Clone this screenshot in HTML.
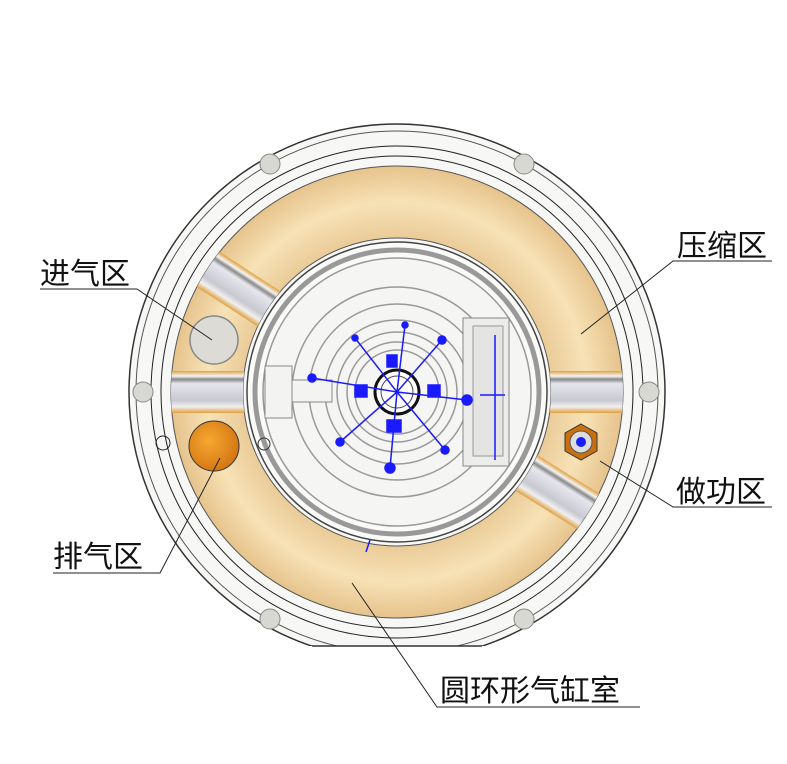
<!DOCTYPE html>
<html><head><meta charset="utf-8"><style>
html,body{margin:0;padding:0;background:#fff;}
svg{display:block}
text{font-family:"Liberation Sans","Noto Sans CJK SC",sans-serif;font-size:30px;fill:#111}
</style></head><body>
<svg width="787" height="764" viewBox="0 0 787 764" xmlns="http://www.w3.org/2000/svg">
<defs>
<radialGradient id="tor" cx="397" cy="392" r="226" gradientUnits="userSpaceOnUse">
<stop offset="0.68" stop-color="#eacb98"/>
<stop offset="0.84" stop-color="#f7e2b6"/>
<stop offset="1" stop-color="#e6c38c"/>
</radialGradient>
<linearGradient id="rib" x1="0" y1="0" x2="0" y2="1">
<stop offset="0" stop-color="#e0a040"/><stop offset="0.12" stop-color="#f4f4f4"/>
<stop offset="0.2" stop-color="#8a8a8a"/><stop offset="0.3" stop-color="#e6e6ee"/>
<stop offset="0.7" stop-color="#c8c8d0"/><stop offset="0.85" stop-color="#f0f0f0"/>
<stop offset="1" stop-color="#e0a040"/>
</linearGradient>
<radialGradient id="org" cx="0.4" cy="0.4" r="0.7"><stop offset="0" stop-color="#f6a830"/><stop offset="1" stop-color="#d07010"/></radialGradient>
<clipPath id="tc"><path d="M397,166a226,226 0 1,0 0.01,0Z M397,238a154,154 0 1,1 -0.01,0Z" clip-rule="evenodd" fill-rule="evenodd"/></clipPath>
<clipPath id="body"><path d="M0,0H787V646H0Z"/></clipPath>
</defs>
<g clip-path="url(#body)">
<circle cx="397" cy="392" r="268" fill="#f7f7f5" stroke="#333" stroke-width="1.5"/>
<circle cx="397" cy="392" r="261" fill="none" stroke="#555" stroke-width="1"/>
<circle cx="397" cy="392" r="246" fill="none" stroke="#222" stroke-width="1"/>
<circle cx="397" cy="392" r="236" fill="none" stroke="#222" stroke-width="1"/>
</g>
<line x1="312" y1="646" x2="482" y2="646" stroke="#333" stroke-width="1.5"/>
<g fill="#d8d8d2" stroke="#888" stroke-width="1">
<circle cx="270" cy="164" r="10"/><circle cx="524" cy="164" r="10"/>
<circle cx="143" cy="392" r="10"/><circle cx="649" cy="392" r="10"/>
<circle cx="270" cy="619" r="10"/><circle cx="524" cy="619" r="10"/>
</g>
<circle cx="163" cy="443" r="7" fill="none" stroke="#222"/>
<path d="M397,166a226,226 0 1,0 0.01,0Z M397,238a154,154 0 1,1 -0.01,0Z" fill="url(#tor)" fill-rule="evenodd" stroke="#555" stroke-width="1"/>
<g clip-path="url(#tc)">
<rect x="150" y="371" width="500" height="42" fill="url(#rib)"/>
<rect x="140" y="371" width="257" height="42" fill="url(#rib)" transform="rotate(33 397 392)"/>
<rect x="397" y="371" width="257" height="42" fill="url(#rib)" transform="rotate(32 397 392)"/>
</g>
<circle cx="397" cy="392" r="150" fill="#fafaf8" stroke="#444" stroke-width="1.5"/>
<circle cx="397" cy="392" r="142" fill="none" stroke="#999" stroke-width="5"/>
<circle cx="397" cy="392" r="134" fill="#f5f5f3" stroke="#999" stroke-width="1.5"/>
<g fill="none" stroke="#999" stroke-width="1.5">
<circle cx="397" cy="392" r="105"/><circle cx="397" cy="392" r="88"/>
<circle cx="397" cy="392" r="72"/><circle cx="397" cy="392" r="60"/>
<circle cx="397" cy="392" r="50"/><circle cx="397" cy="392" r="42"/>
</g>
<rect x="265" y="366" width="27" height="52" fill="#f3f3f1" stroke="#888"/>
<rect x="292" y="380" width="40" height="22" fill="#f3f3f1" stroke="#888"/>
<rect x="463" y="318" width="46" height="148" fill="#ececea" stroke="#888"/>
<rect x="473" y="326" width="30" height="130" fill="#e4e4e2" stroke="#999"/>
<circle cx="397" cy="392" r="22" fill="#fff" stroke="#111" stroke-width="3"/>
<circle cx="397" cy="392" r="16" fill="#fff" stroke="#444" stroke-width="1"/>
<g stroke="#1a1aff" stroke-width="1.5" fill="#1a1aff">
<line x1="397" y1="392" x2="405" y2="325"/><line x1="397" y1="392" x2="355" y2="338"/>
<line x1="397" y1="392" x2="442" y2="340"/><line x1="397" y1="392" x2="312" y2="378"/>
<line x1="397" y1="392" x2="467" y2="400"/><line x1="397" y1="392" x2="340" y2="442"/>
<line x1="397" y1="392" x2="390" y2="468"/><line x1="397" y1="392" x2="445" y2="450"/>
<circle cx="405" cy="325" r="3"/><circle cx="355" cy="338" r="3"/><circle cx="442" cy="340" r="4"/>
<circle cx="312" cy="378" r="4"/><circle cx="467" cy="400" r="5"/><circle cx="340" cy="442" r="4"/>
<circle cx="390" cy="468" r="5"/><circle cx="445" cy="450" r="4"/>
<rect x="387" y="355" width="10" height="12"/><rect x="387" y="420" width="14" height="12"/>
<rect x="355" y="385" width="12" height="12"/><rect x="428" y="385" width="12" height="12"/>
<line x1="495" y1="335" x2="495" y2="460"/><line x1="480" y1="395" x2="505" y2="395"/>
<line x1="370" y1="540" x2="366" y2="552"/>
</g>
<circle cx="214" cy="340" r="24" fill="#dcdbd5" stroke="#888" stroke-width="1.5"/>
<circle cx="214" cy="446" r="25" fill="url(#org)" stroke="#333" stroke-width="1"/>
<circle cx="264" cy="444" r="6" fill="none" stroke="#333"/>
<polygon points="581,424 597,433 597,451 581,460 565,451 565,433" fill="#c87010" stroke="#333"/>
<circle cx="581" cy="442" r="11" fill="#ddd" stroke="#555"/>
<circle cx="581" cy="442" r="5" fill="#1a1aff"/>
<g stroke="#222" stroke-width="1" fill="none">
<polyline points="40,289 137,289 212,340"/>
<polyline points="53,573 160,573 220,458"/>
<polyline points="772,261 673,261 581,334"/>
<polyline points="772,507 673,507 600,461"/>
<polyline points="640,707 437,707 352,583"/>
</g>
<text x="40" y="284">进气区</text>
<text x="53" y="567">排气区</text>
<text x="677" y="256">压缩区</text>
<text x="676" y="502">做功区</text>
<text x="440" y="701">圆环形气缸室</text>
</svg>
</body></html>
